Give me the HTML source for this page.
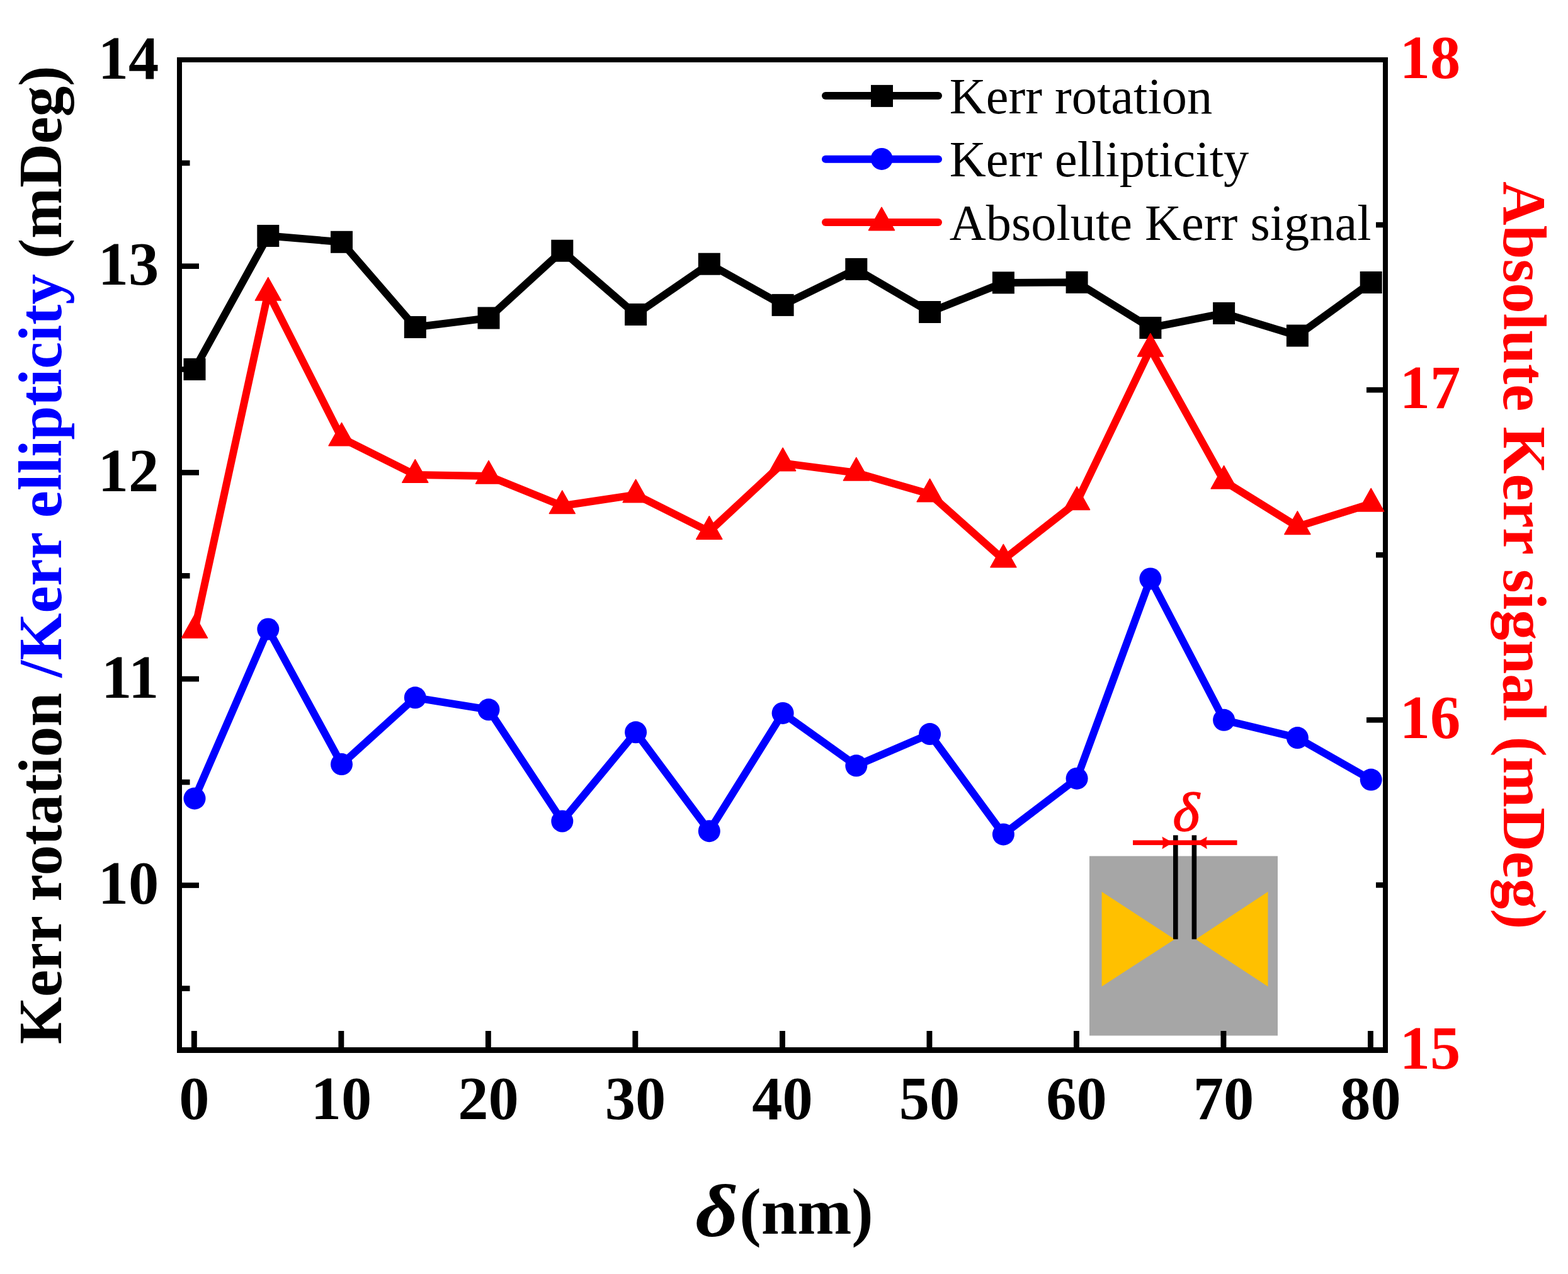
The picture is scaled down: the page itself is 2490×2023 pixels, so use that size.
<!DOCTYPE html><html><head><meta charset="utf-8"><style>html,body{margin:0;padding:0;background:#fff;}svg{display:block;}text{font-family:"Liberation Serif","Times New Roman",serif;}</style></head><body>
<svg width="2490" height="2023" viewBox="0 0 2490 2023">
<rect width="2490" height="2023" fill="#fff"/>
<g id="inset">
<rect x="1730" y="1359.4" width="299" height="285.1" fill="#a6a6a6"/>
<polygon points="1749.6,1416 1749.6,1566.5 1865.4,1491.4" fill="#ffc000"/>
<polygon points="2013.5,1416 2013.5,1566.5 1898.9,1491.4" fill="#ffc000"/>
<rect x="1863" y="1326.3" width="7.6" height="165.1" fill="#000"/>
<rect x="1892.6" y="1326.3" width="7.6" height="165.1" fill="#000"/>
<rect x="1799" y="1334.3" width="165.5" height="7.6" fill="#f00"/>
<polygon points="1845.4,1328.4 1862.5,1338.1 1845.4,1348.3 1847.4,1338.1" fill="#f00"/>
<polygon points="1916.8,1328.4 1900.3,1338.1 1916.8,1348.3 1914.8,1338.1" fill="#f00"/>
<text transform="translate(1862.5,1319.2) scale(1.05,1)" font-size="86.5" font-style="italic" fill="#f00" stroke="#f00" stroke-width="1.6">δ</text>
</g>
<g fill="#000">
<rect x="281" y="91" width="1923" height="8"/>
<rect x="281" y="1663" width="1923" height="9"/>
<rect x="281" y="91" width="8" height="1581"/>
<rect x="2196" y="91" width="8" height="1581"/>
<rect x="289" y="1401.5" width="27" height="8.6"/>
<rect x="289" y="1073.8" width="27" height="8.6"/>
<rect x="289" y="746.1" width="27" height="8.6"/>
<rect x="289" y="418.4" width="27" height="8.6"/>
<rect x="289" y="1565.3" width="12.5" height="8.6"/>
<rect x="289" y="1237.7" width="12.5" height="8.6"/>
<rect x="289" y="910" width="12.5" height="8.6"/>
<rect x="289" y="582.2" width="12.5" height="8.6"/>
<rect x="289" y="254.6" width="12.5" height="8.6"/>
<rect x="2170" y="1139" width="26" height="8.6"/>
<rect x="2170" y="614.9" width="26" height="8.6"/>
<rect x="2185" y="1401.1" width="11" height="8.6"/>
<rect x="2185" y="876.9" width="11" height="8.6"/>
<rect x="2185" y="352.8" width="11" height="8.6"/>
<rect x="303.9" y="1637" width="8.9" height="26"/>
<rect x="537.4" y="1637" width="8.9" height="26"/>
<rect x="770.9" y="1637" width="8.9" height="26"/>
<rect x="1004.4" y="1637" width="8.9" height="26"/>
<rect x="1238" y="1637" width="8.9" height="26"/>
<rect x="1471.5" y="1637" width="8.9" height="26"/>
<rect x="1705" y="1637" width="8.9" height="26"/>
<rect x="1938.5" y="1637" width="8.9" height="26"/>
<rect x="2172" y="1637" width="8.9" height="26"/>
</g>
<g fill="none" stroke-width="12" stroke-linejoin="round" stroke-linecap="round">
<polyline points="309,586.4 425.8,374.5 542.5,384.3 659.3,519.5 776,505 892.8,398.2 1009.6,499.4 1126.3,419.2 1243.1,484.4 1359.8,427.4 1476.6,495.5 1593.4,448.9 1710.1,448.3 1826.9,520.5 1943.6,497.5 2060.4,533 2177.2,448.5" stroke="#000"/>
</g>
<rect x="291.5" y="568.9" width="35" height="35" fill="#000"/><rect x="408.3" y="357" width="35" height="35" fill="#000"/><rect x="525" y="366.8" width="35" height="35" fill="#000"/><rect x="641.8" y="502" width="35" height="35" fill="#000"/><rect x="758.5" y="487.5" width="35" height="35" fill="#000"/><rect x="875.3" y="380.7" width="35" height="35" fill="#000"/><rect x="992.1" y="481.9" width="35" height="35" fill="#000"/><rect x="1108.8" y="401.7" width="35" height="35" fill="#000"/><rect x="1225.6" y="466.9" width="35" height="35" fill="#000"/><rect x="1342.3" y="409.9" width="35" height="35" fill="#000"/><rect x="1459.1" y="478" width="35" height="35" fill="#000"/><rect x="1575.9" y="431.4" width="35" height="35" fill="#000"/><rect x="1692.6" y="430.8" width="35" height="35" fill="#000"/><rect x="1809.4" y="503" width="35" height="35" fill="#000"/><rect x="1926.1" y="480" width="35" height="35" fill="#000"/><rect x="2042.9" y="515.5" width="35" height="35" fill="#000"/><rect x="2159.7" y="431" width="35" height="35" fill="#000"/>
<polyline points="309,1267.9 425.8,999 542.5,1213.6 659.3,1107.8 776,1126.8 892.8,1304 1009.6,1162.8 1126.3,1319.7 1243.1,1132.4 1359.8,1215.8 1476.6,1165.6 1593.4,1324.9 1710.1,1236.2 1826.9,918.9 1943.6,1143.3 2060.4,1171.6 2177.2,1238.1" fill="none" stroke="#00f" stroke-width="12" stroke-linejoin="round" stroke-linecap="round"/>
<circle cx="309" cy="1267.9" r="17.5" fill="#00f"/><circle cx="425.8" cy="999" r="17.5" fill="#00f"/><circle cx="542.5" cy="1213.6" r="17.5" fill="#00f"/><circle cx="659.3" cy="1107.8" r="17.5" fill="#00f"/><circle cx="776" cy="1126.8" r="17.5" fill="#00f"/><circle cx="892.8" cy="1304" r="17.5" fill="#00f"/><circle cx="1009.6" cy="1162.8" r="17.5" fill="#00f"/><circle cx="1126.3" cy="1319.7" r="17.5" fill="#00f"/><circle cx="1243.1" cy="1132.4" r="17.5" fill="#00f"/><circle cx="1359.8" cy="1215.8" r="17.5" fill="#00f"/><circle cx="1476.6" cy="1165.6" r="17.5" fill="#00f"/><circle cx="1593.4" cy="1324.9" r="17.5" fill="#00f"/><circle cx="1710.1" cy="1236.2" r="17.5" fill="#00f"/><circle cx="1826.9" cy="918.9" r="17.5" fill="#00f"/><circle cx="1943.6" cy="1143.3" r="17.5" fill="#00f"/><circle cx="2060.4" cy="1171.6" r="17.5" fill="#00f"/><circle cx="2177.2" cy="1238.1" r="17.5" fill="#00f"/>
<polyline points="309,1000.8 425.8,464.8 542.5,695.6 659.3,754 776,755.9 892.8,803.3 1009.6,785.6 1126.3,844 1243.1,735.5 1359.8,750.8 1476.6,784.6 1593.4,888.6 1710.1,797.2 1826.9,553.9 1943.6,763.8 2060.4,836.2 2177.2,799.8" fill="none" stroke="#f00" stroke-width="12" stroke-linejoin="round" stroke-linecap="round"/>
<polygon points="309,976.5 329.5,1013 288.5,1013" fill="#f00" stroke="#f00" stroke-width="1.5" stroke-linejoin="round"/><polygon points="425.8,440.5 446.3,477 405.3,477" fill="#f00" stroke="#f00" stroke-width="1.5" stroke-linejoin="round"/><polygon points="542.5,671.3 563,707.8 522,707.8" fill="#f00" stroke="#f00" stroke-width="1.5" stroke-linejoin="round"/><polygon points="659.3,729.7 679.8,766.2 638.8,766.2" fill="#f00" stroke="#f00" stroke-width="1.5" stroke-linejoin="round"/><polygon points="776,731.6 796.5,768.1 755.5,768.1" fill="#f00" stroke="#f00" stroke-width="1.5" stroke-linejoin="round"/><polygon points="892.8,779 913.3,815.5 872.3,815.5" fill="#f00" stroke="#f00" stroke-width="1.5" stroke-linejoin="round"/><polygon points="1009.6,761.3 1030.1,797.8 989.1,797.8" fill="#f00" stroke="#f00" stroke-width="1.5" stroke-linejoin="round"/><polygon points="1126.3,819.7 1146.8,856.2 1105.8,856.2" fill="#f00" stroke="#f00" stroke-width="1.5" stroke-linejoin="round"/><polygon points="1243.1,711.2 1263.6,747.7 1222.6,747.7" fill="#f00" stroke="#f00" stroke-width="1.5" stroke-linejoin="round"/><polygon points="1359.8,726.5 1380.3,763 1339.3,763" fill="#f00" stroke="#f00" stroke-width="1.5" stroke-linejoin="round"/><polygon points="1476.6,760.3 1497.1,796.8 1456.1,796.8" fill="#f00" stroke="#f00" stroke-width="1.5" stroke-linejoin="round"/><polygon points="1593.4,864.3 1613.9,900.8 1572.9,900.8" fill="#f00" stroke="#f00" stroke-width="1.5" stroke-linejoin="round"/><polygon points="1710.1,772.9 1730.6,809.4 1689.6,809.4" fill="#f00" stroke="#f00" stroke-width="1.5" stroke-linejoin="round"/><polygon points="1826.9,529.6 1847.4,566.1 1806.4,566.1" fill="#f00" stroke="#f00" stroke-width="1.5" stroke-linejoin="round"/><polygon points="1943.6,739.5 1964.1,776 1923.1,776" fill="#f00" stroke="#f00" stroke-width="1.5" stroke-linejoin="round"/><polygon points="2060.4,811.9 2080.9,848.4 2039.9,848.4" fill="#f00" stroke="#f00" stroke-width="1.5" stroke-linejoin="round"/><polygon points="2177.2,775.5 2197.7,812 2156.7,812" fill="#f00" stroke="#f00" stroke-width="1.5" stroke-linejoin="round"/>
<g font-weight="bold" font-size="96.5" fill="#000" text-anchor="end">
<text x="252.3" y="1435.3">10</text>
<text x="252.3" y="1107.6">11</text>
<text x="252.3" y="779.9">12</text>
<text x="252.3" y="452.2">13</text>
<text x="252.3" y="124.5">14</text>
</g>
<g font-weight="bold" font-size="96.5" fill="#f00">
<text x="2222.7" y="1696.5">15</text>
<text x="2222.7" y="1172.3">16</text>
<text x="2222.7" y="648.2">17</text>
<text x="2222.7" y="124">18</text>
</g>
<g font-weight="bold" font-size="96.5" fill="#000" text-anchor="middle">
<text x="308.4" y="1777.4">0</text>
<text x="541.9" y="1777.4">10</text>
<text x="775.4" y="1777.4">20</text>
<text x="1008.9" y="1777.4">30</text>
<text x="1242.4" y="1777.4">40</text>
<text x="1475.9" y="1777.4">50</text>
<text x="1709.4" y="1777.4">60</text>
<text x="1942.9" y="1777.4">70</text>
<text x="2176.4" y="1777.4">80</text>
</g>
<text transform="translate(97.2,1658.2) rotate(-90)" font-weight="bold" font-size="96.8" fill="#000">Kerr rotation <tspan fill="#00f">/Kerr ellipticity</tspan> (mDeg)</text>
<text transform="translate(2387.6,288) rotate(90)" font-weight="bold" font-size="96.66" fill="#f00">Absolute Kerr signal (mDeg)</text>
<text transform="translate(1104.3,1963) scale(1.12,1)" font-weight="bold" font-style="italic" font-size="119" fill="#000">δ</text>
<text x="1174.3" y="1959.4" font-weight="bold" font-size="103.4" fill="#000">(nm)</text>
<g stroke-width="12" stroke-linecap="round">
<line x1="1311" y1="152.1" x2="1490" y2="152.1" stroke="#000"/>
<line x1="1311" y1="252.7" x2="1490" y2="252.7" stroke="#00f"/>
<line x1="1311" y1="352.9" x2="1490" y2="352.9" stroke="#f00"/>
</g>
<rect x="1383" y="134.9" width="35" height="35" fill="#000"/>
<circle cx="1400.2" cy="252.4" r="17.5" fill="#00f"/>
<polygon points="1400,329.2 1420.5,365.7 1379.5,365.7" fill="#f00" stroke="#f00" stroke-width="1.5" stroke-linejoin="round"/>
<g font-size="80.4" fill="#000">
<text x="1507.7" y="180.2">Kerr rotation</text>
<text x="1507.7" y="280">Kerr ellipticity</text>
<text x="1507.7" y="380.5">Absolute Kerr signal</text>
</g>
</svg></body></html>
